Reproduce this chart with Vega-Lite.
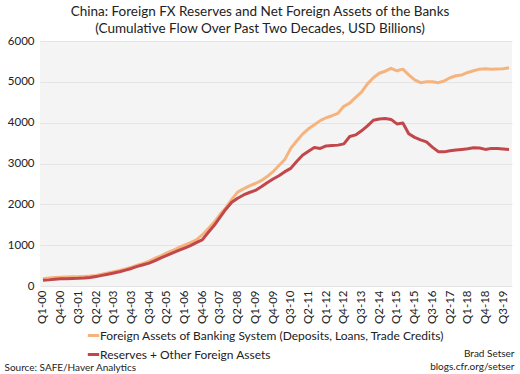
{
  "$schema": "https://vega.github.io/schema/vega-lite/v6.json",
  "width": 472,
  "height": 245,
  "autosize": {"type": "none"},
  "padding": {"left": 40, "top": 41, "right": 8, "bottom": 88},
  "background": "white",
  "title": {
    "text": ["China: Foreign FX Reserves and Net Foreign Assets of the Banks", "(Cumulative Flow Over Past Two Decades, USD Billions)"],
    "fontSize": 13.5,
    "fontWeight": "normal",
    "font": "Lato",
    "color": "#222222",
    "anchor": "middle",
    "offset": 0,
    "lineHeight": 17,
    "dx": -16
  },
  "config": {
    "font": "Lato",
    "view": {"fill": "#f4f4f4", "stroke": null},
    "axis": {"labelColor": "#222222", "titleColor": "#222222", "domain": false, "ticks": false}
  },
  "data": {
    "values": [
      {"q":"Q1-00","A":180,"B":140},{"q":"Q2-00","A":195,"B":150},{"q":"Q3-00","A":210,"B":165},{"q":"Q4-00","A":215,"B":175},
      {"q":"Q1-01","A":220,"B":180},{"q":"Q2-01","A":225,"B":185},{"q":"Q3-01","A":228,"B":188},{"q":"Q4-01","A":235,"B":195},
      {"q":"Q1-02","A":245,"B":210},{"q":"Q2-02","A":260,"B":230},{"q":"Q3-02","A":290,"B":260},{"q":"Q4-02","A":320,"B":290},
      {"q":"Q1-03","A":350,"B":320},{"q":"Q2-03","A":380,"B":350},{"q":"Q3-03","A":420,"B":390},{"q":"Q4-03","A":460,"B":430},
      {"q":"Q1-04","A":510,"B":480},{"q":"Q2-04","A":555,"B":520},{"q":"Q3-04","A":610,"B":560},{"q":"Q4-04","A":680,"B":620},
      {"q":"Q1-05","A":740,"B":690},{"q":"Q2-05","A":810,"B":750},{"q":"Q3-05","A":870,"B":810},{"q":"Q4-05","A":940,"B":870},
      {"q":"Q1-06","A":1000,"B":930},{"q":"Q2-06","A":1060,"B":990},{"q":"Q3-06","A":1130,"B":1060},{"q":"Q4-06","A":1250,"B":1130},
      {"q":"Q1-07","A":1400,"B":1310},{"q":"Q2-07","A":1560,"B":1480},{"q":"Q3-07","A":1750,"B":1680},{"q":"Q4-07","A":1920,"B":1880},
      {"q":"Q1-08","A":2120,"B":2050},{"q":"Q2-08","A":2300,"B":2150},{"q":"Q3-08","A":2380,"B":2230},{"q":"Q4-08","A":2450,"B":2290},
      {"q":"Q1-09","A":2510,"B":2340},{"q":"Q2-09","A":2580,"B":2430},{"q":"Q3-09","A":2680,"B":2530},{"q":"Q4-09","A":2800,"B":2620},
      {"q":"Q1-10","A":2950,"B":2700},{"q":"Q2-10","A":3100,"B":2800},{"q":"Q3-10","A":3370,"B":2880},{"q":"Q4-10","A":3550,"B":3050},
      {"q":"Q1-11","A":3720,"B":3200},{"q":"Q2-11","A":3850,"B":3300},{"q":"Q3-11","A":3950,"B":3390},{"q":"Q4-11","A":4050,"B":3370},
      {"q":"Q1-12","A":4120,"B":3430},{"q":"Q2-12","A":4170,"B":3440},{"q":"Q3-12","A":4230,"B":3450},{"q":"Q4-12","A":4400,"B":3480},
      {"q":"Q1-13","A":4480,"B":3660},{"q":"Q2-13","A":4620,"B":3700},{"q":"Q3-13","A":4750,"B":3800},{"q":"Q4-13","A":4950,"B":3920},
      {"q":"Q1-14","A":5100,"B":4060},{"q":"Q2-14","A":5210,"B":4090},{"q":"Q3-14","A":5260,"B":4100},{"q":"Q4-14","A":5330,"B":4080},
      {"q":"Q1-15","A":5270,"B":3970},{"q":"Q2-15","A":5310,"B":3990},{"q":"Q3-15","A":5170,"B":3730},{"q":"Q4-15","A":5050,"B":3640},
      {"q":"Q1-16","A":4980,"B":3580},{"q":"Q2-16","A":5000,"B":3530},{"q":"Q3-16","A":5000,"B":3400},{"q":"Q4-16","A":4980,"B":3290},
      {"q":"Q1-17","A":5020,"B":3285},{"q":"Q2-17","A":5100,"B":3310},{"q":"Q3-17","A":5150,"B":3330},{"q":"Q4-17","A":5170,"B":3345},
      {"q":"Q1-18","A":5230,"B":3360},{"q":"Q2-18","A":5270,"B":3385},{"q":"Q3-18","A":5310,"B":3380},{"q":"Q4-18","A":5320,"B":3345},
      {"q":"Q1-19","A":5310,"B":3370},{"q":"Q2-19","A":5315,"B":3365},{"q":"Q3-19","A":5320,"B":3355},{"q":"Q4-19","A":5345,"B":3345}
    ]
  },
  "transform": [
    {"fold": ["A", "B"], "as": ["key", "value"]},
    {"lookup": "key", "from": {"data": {"values": [
      {"key": "A", "series": "Foreign Assets of Banking System (Deposits, Loans, Trade Credits)"},
      {"key": "B", "series": "Reserves + Other Foreign Assets"}
    ]}, "key": "key", "fields": ["series"]}}
  ],
  "mark": {"type": "line", "strokeWidth": 3, "strokeJoin": "round"},
  "encoding": {
    "x": {
      "field": "q", "type": "ordinal", "sort": null,
      "scale": {"type": "point", "padding": 0.5},
      "axis": {
        "values": ["Q1-00","Q4-00","Q3-01","Q2-02","Q1-03","Q4-03","Q3-04","Q2-05","Q1-06","Q4-06","Q3-07","Q2-08","Q1-09","Q4-09","Q3-10","Q2-11","Q1-12","Q4-12","Q3-13","Q2-14","Q1-15","Q4-15","Q3-16","Q2-17","Q1-18","Q4-18","Q3-19"],
        "labelAngle": -90, "labelFontSize": 11.5, "labelPadding": 4, "grid": false,
        "title": "Source: SAFE/Haver Analytics",
        "titleFontSize": 10, "titleFontWeight": "normal",
        "titleX": -36, "titleY": 81, "titleAlign": "left", "titleBaseline": "middle", "titleAnchor": null
      }
    },
    "y": {
      "field": "value", "type": "quantitative",
      "scale": {"domain": [0, 6000], "nice": false},
      "axis": {
        "values": [0, 1000, 2000, 3000, 4000, 5000, 6000], "format": "d",
        "labelFontSize": 11.5, "labelPadding": 6, "grid": true, "gridColor": "#e4e4e4", "gridWidth": 1,
        "title": ["Brad Setser", "blogs.cfr.org/setser"],
        "titleFontSize": 10, "titleFontWeight": "normal", "titleAngle": 0,
        "titleX": 474, "titleY": 307, "titleAlign": "right", "titleBaseline": "top", "titleLineHeight": 13
      }
    },
    "color": {
      "field": "series", "type": "nominal",
      "scale": {"domain": ["Foreign Assets of Banking System (Deposits, Loans, Trade Credits)", "Reserves + Other Foreign Assets"], "range": ["#f5b47e", "#c2474b"]},
      "legend": {
        "title": null, "orient": "none", "legendX": 46, "legendY": 287,
        "symbolType": "stroke", "symbolStrokeWidth": 3, "symbolSize": 130,
        "labelFontSize": 12, "labelColor": "#222222", "rowPadding": 5, "labelOffset": -1, "labelLimit": 500
      }
    }
  }
}
